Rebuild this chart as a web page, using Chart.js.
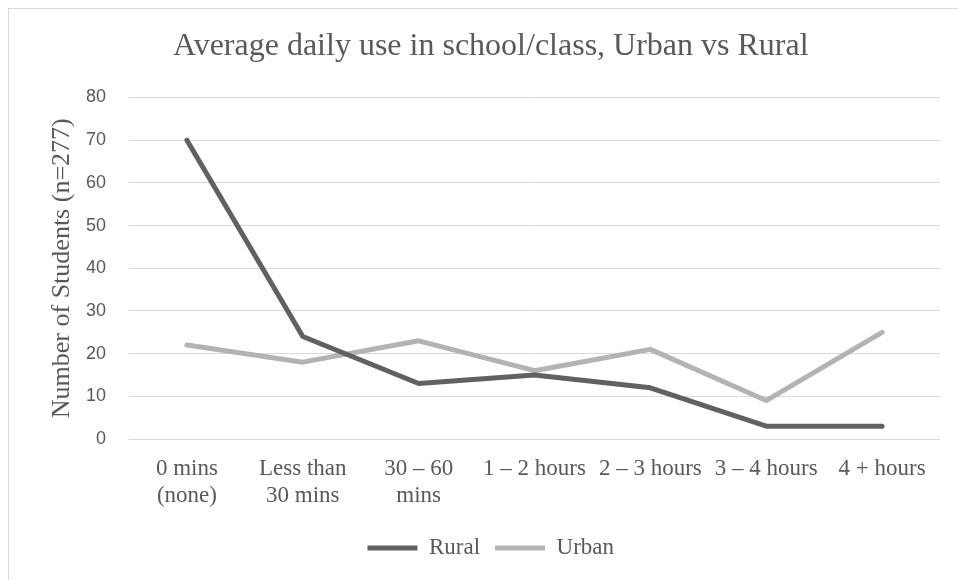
<!DOCTYPE html>
<html>
<head>
<meta charset="utf-8">
<script src="https://cdn.jsdelivr.net/npm/chart.js@4/dist/chart.umd.min.js"></script>
<style>
  html, body { margin: 0; padding: 0; background: #fff; }
  body { width: 958px; height: 580px; position: relative; overflow: hidden; }
  #frame { position: absolute; left: 8px; top: 8px; width: 980px; height: 600px; border: 1px solid #d9d9d9; }
  #wrap { position: absolute; left: 0; top: 0; width: 958px; height: 580px; }
</style>
</head>
<body>
<div id="frame"></div>
<div id="wrap"><canvas id="chart"></canvas></div>
<script>
// data
const categories = [
    ['0 mins', '(none)'],
    ['Less than', '30 mins'],
    ['30 – 60', 'mins'],
    '1 – 2 hours',
    '2 – 3 hours',
    '3 – 4 hours',
    '4 + hours'
];
const ruralValues = [70, 24, 13, 15, 12, 3, 3];
const urbanValues = [22, 18, 23, 16, 21, 9, 25];
const yTicks = [0, 10, 20, 30, 40, 50, 60, 70, 80];

const textGrey = '#595959';
const serif = "'Liberation Serif', 'Times New Roman', serif";

const ctx = document.getElementById('chart').getContext('2d');
new Chart(ctx, {
    type: 'line',
    data: {
        labels: categories,
        datasets: [
            {
                label: 'Rural',
                data: ruralValues,
                borderColor: '#616161',
                backgroundColor: '#616161',
                borderWidth: 5,
                pointRadius: 0,
                tension: 0,
                borderCapStyle: 'round',
                borderJoinStyle: 'round'
            },
            {
                label: 'Urban',
                data: urbanValues,
                borderColor: '#b3b3b3',
                backgroundColor: '#b3b3b3',
                borderWidth: 5,
                pointRadius: 0,
                tension: 0,
                borderCapStyle: 'round',
                borderJoinStyle: 'round'
            }
        ]
    },
    options: {
        responsive: true,
        maintainAspectRatio: false,
        animation: false,
        layout: { padding: { left: 41.5, right: 18, top: 0, bottom: 10.5 } },
        scales: {
            x: {
                offset: true,
                grid: { display: false, drawTicks: false },
                border: { display: false },
                ticks: {
                    color: textGrey,
                    padding: 17,
                    maxRotation: 0,
                    autoSkip: false,
                    font: { family: serif, size: 23, lineHeight: 1.15 }
                },
                afterFit: (s) => { s.height = 82.5; }
            },
            y: {
                min: 0,
                max: 80,
                afterBuildTicks: (s) => { s.ticks = yTicks.map(v => ({ value: v })); },
                grid: { color: '#d9d9d9', lineWidth: 1, drawTicks: false },
                border: { display: false },
                ticks: {
                    color: textGrey,
                    padding: 23,
                    font: { family: "'Liberation Sans', Arial, sans-serif", size: 18 }
                },
                title: {
                    display: true,
                    text: 'Number of Students (n=277)',
                    color: textGrey,
                    padding: { top: 5, bottom: 0 },
                    font: { family: serif, size: 26, lineHeight: 1.2 }
                },
                afterFit: (s) => { s.width = 87.5; }
            }
        },
        plugins: {
            title: {
                display: true,
                text: 'Average daily use in school/class, Urban vs Rural',
                color: textGrey,
                padding: { top: 27.3, bottom: 31.8 },
                font: { family: serif, size: 32, weight: 'normal', lineHeight: 1.2 }
            },
            legend: {
                position: 'bottom',
                labels: {
                    usePointStyle: true,
                    pointStyle: 'line',
                    pointStyleWidth: 50,
                    padding: 15,
                    color: textGrey,
                    font: { family: serif, size: 23 }
                }
            },
            tooltip: { enabled: false }
        }
    }
});
</script>
</body>
</html>
